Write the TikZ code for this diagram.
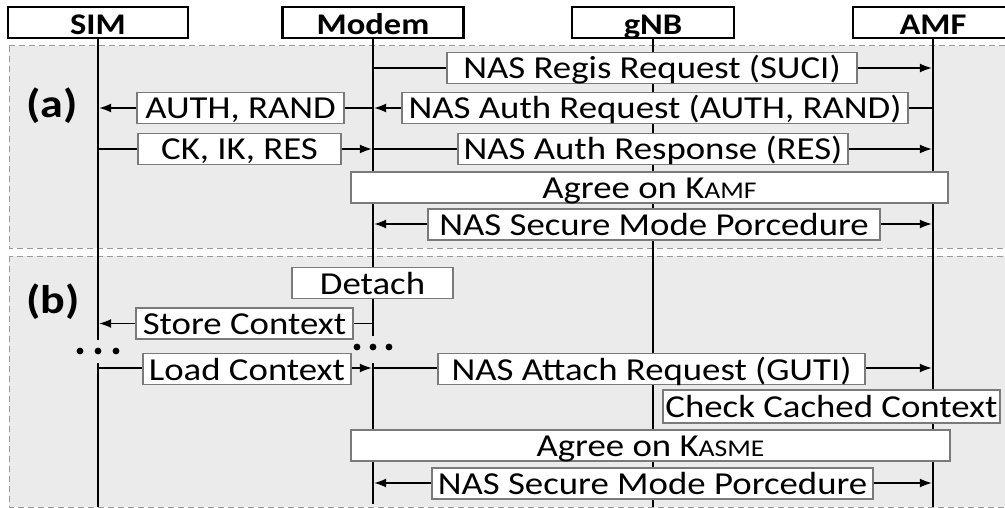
\documentclass[tikz,border=0pt]{standalone}
\usepackage{fontspec}
\setmainfont{Carlito}[FakeStretch=1.15]
\usetikzlibrary{arrows.meta}
\pgfdeclarelayer{back}
\pgfdeclarelayer{wires}
\pgfsetlayers{back,wires,main}
\definecolor{panelfill}{HTML}{EBEBEB}
\definecolor{paneledge}{HTML}{9A9A9A}
\definecolor{boxedge}{HTML}{7A7A7A}

\begin{document}
\begin{tikzpicture}[x=1pt,y=-1pt,
  actor/.style={draw=black,line width=2.4pt,fill=white,inner sep=0pt,
    minimum height=31pt,text height=25pt,text depth=0pt,
    font=\fontsize{30}{30}\selectfont\bfseries},
  msgbox/.style={draw=boxedge,line width=1.4pt,fill=white,inner sep=0pt,
    minimum height=31pt,text height=25pt,text depth=3pt,
    font=\fontsize{32}{32}\selectfont},
  tag/.style={font=\fontsize{40}{40}\selectfont\bfseries,inner sep=0pt},
  panel/.style={fill=panelfill,draw=paneledge,line width=1pt,dash pattern=on 6pt off 4pt},
  life/.style={line width=2.4pt,black},
  msg/.style={line width=1.3pt,-{Latex[length=12pt,width=9pt]},shorten >=1.2pt},
  twoway/.style={line width=1.3pt,{Latex[length=12pt,width=9pt]}-{Latex[length=12pt,width=9pt]},
    shorten >=1.2pt,shorten <=1.2pt},
  dot/.style={fill=black}]
\useasboundingbox (0,0) rectangle (1005,508);

% background panels
\begin{pgfonlayer}{back}
  \draw[panel] (9,46) rectangle (1020,248);
  \draw[panel] (9,256) rectangle (1020,507);
\end{pgfonlayer}

% participants
\node[actor,minimum width=180pt] (sim)   at (98,22.5)  {SIM};
\node[actor,minimum width=181pt] (modem) at (373,22.5) {Modem};
\node[actor,minimum width=162pt] (gnb)   at (653,22.5) {gNB};
\node[actor,minimum width=160pt] (amf)   at (933,22.5) {AMF};

% section tags
\node[tag] (taga) at (52,106) {(a)};
\node[tag] (tagb) at (53,302) {(b)};

% (a) registration and authentication
\node[msgbox,minimum width=410pt] (regreq)  at (652,68)    {NAS Regis Request (SUCI)};
\node[msgbox,minimum width=207pt] (authsim) at (240.5,108) {AUTH, RAND};
\node[msgbox,minimum width=506pt] (authreq) at (655,108)   {NAS Auth Request (AUTH, RAND)};
\node[msgbox,minimum width=203pt] (keys)    at (239.5,149) {CK, IK, RES};
\node[msgbox,minimum width=390pt] (authres) at (653,149)   {NAS Auth Response (RES)};
\node[msgbox,minimum width=597pt] (kamf)    at (649.5,187.5)
  {Agree on K{\fontsize{24}{24}\selectfont AMF}};
\node[msgbox,minimum width=452pt] (smca)    at (654,224.5) {NAS Secure Mode Porcedure};

% (b) detach and re-attach with cached context
\node[msgbox,minimum width=161pt] (detach)  at (372.5,283)   {Detach};
\node[msgbox,minimum width=217pt] (store)   at (244.5,323.5) {Store Context};
\node[msgbox,minimum width=208pt] (load)    at (247,369)     {Load Context};
\node[msgbox,minimum width=427pt] (attach)  at (651.5,369)   {NAS Attach Request (GUTI)};
\node[msgbox,minimum width=337pt,minimum height=33pt] (cached) at (831.5,406.5) {Check Cached Context};
\node[msgbox,minimum width=599pt] (kasme)   at (650.5,445.5)
  {Agree on K{\fontsize{24}{24}\selectfont ASME}};
\node[msgbox,minimum width=441pt] (smcb)    at (652.5,483.5) {NAS Secure Mode Porcedure};

% break points on the SIM and modem lifelines
\coordinate (simstop)    at (98,340);
\coordinate (simresume)  at (98,363);
\coordinate (simend)     at (98,507);
\coordinate (modstop)    at (373,336);
\coordinate (modresume)  at (373,363);
\coordinate (modend)     at (373,504);
\coordinate (gnbend)     at (653,507);
\coordinate (amfend)     at (933,507);

\begin{pgfonlayer}{wires}
  % lifelines
  \draw[life] (sim.south) -- (simstop);
  \draw[life] (simresume) -- (simend);
  \draw[life] (modem.south) -- (modstop);
  \draw[life] (modresume) -- (modend);
  \draw[life] (gnb.south) -- (gnbend);
  \draw[life] (amf.south) -- (amfend);

  % messages of (a)
  \draw[msg] (modem |- regreq) -- (amf |- regreq);
  \draw[msg] (amf |- authreq) -- (modem |- authreq);
  \draw[msg] (modem |- authsim) -- (sim |- authsim);
  \draw[msg] (sim |- keys) -- (modem |- keys);
  \draw[msg] (modem |- authres) -- (amf |- authres);
  \draw[twoway] (modem |- 0,224) -- (amf |- 0,224);

  % messages of (b)
  \draw[msg] (modem |- store) -- (sim |- store);
  \draw[msg] (sim |- 0,368) -- (modem |- 0,368);
  \draw[msg] (modem |- 0,368) -- (amf |- 0,368);
  \draw[twoway] (modem |- 0,483) -- (amf |- 0,483);
\end{pgfonlayer}

% elapsed time between detach and re-attach
\foreach \x in {80,98,116} \fill[dot] (\x,351) circle (3.4pt);
\foreach \x in {357,373,389} \fill[dot] (\x,347) circle (3.4pt);

\end{tikzpicture}
\end{document}
